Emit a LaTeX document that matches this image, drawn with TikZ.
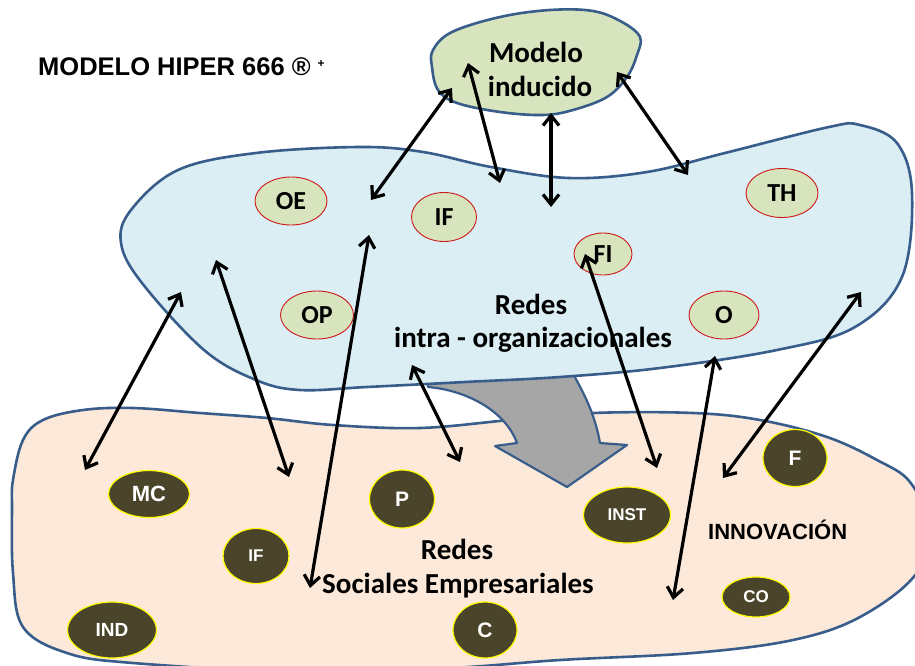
\documentclass[tikz,border=0pt]{standalone}
\usepackage{fontspec}
\setmainfont{Liberation Sans}
\newfontfamily\calibri{Carlito}
\usetikzlibrary{arrows.meta,shapes.geometric}

\definecolor{outline}{RGB}{56,93,138}
\definecolor{greenfill}{RGB}{215,228,189}
\definecolor{bluefill}{RGB}{219,238,244}
\definecolor{pinkfill}{RGB}{253,233,217}
\definecolor{grayfill}{RGB}{166,166,166}
\definecolor{darkfill}{RGB}{74,69,42}
\definecolor{redline}{RGB}{205,25,25}
\definecolor{yline}{RGB}{255,255,0}

\tikzset{
  blob/.style={draw=outline, line width=2.6pt, line join=round},
  intranode/.style={ellipse, draw=redline, line width=0.9pt, fill=greenfill,
    inner sep=0pt, font=\calibri\bfseries\fontsize{26}{28}\selectfont},
  socialnode/.style={ellipse, draw=yline, line width=1.2pt, fill=darkfill,
    text=white, inner sep=0pt, font=\bfseries\fontsize{#1}{#1}\selectfont},
  biglabel/.style={anchor=base, inner sep=0pt, font=\calibri\bfseries\fontsize{29}{32}\selectfont},
  link/.style={line width=3.2pt,
    {Straight Barb[length=10pt,width=16pt]}-{Straight Barb[length=10pt,width=16pt]}},
}

\begin{document}
\begin{tikzpicture}[x=1pt,y=-1pt]
\clip (0,0) rectangle (915,666);
\fill[white] (0,0) rectangle (915,666);

% lower region: social business networks
\path[blob, fill=pinkfill] plot[smooth cycle, tension=0.6] coordinates {
  (13,480) (23,440) (43,420) (83,410) (133,408) (200,413) (267,418) (333,425)
  (420,428) (510,420) (593,413) (693,413) (760,420) (827,437) (877,460)
  (910,482) (928,525) (916,574) (860,617) (793,640) (693,653) (560,660)
  (450,668) (300,672) (133,663) (67,653) (23,627) (13,573) (12,507)};

% transfer arrow between the two network regions
\path[draw=outline, line width=2.2pt, line join=round, fill=grayfill]
  (428,372) -- (428,387) .. controls (465,390) and (505,410) .. (517,443)
  -- (495,446) -- (567,487) -- (627,445) -- (600,443)
  .. controls (595,415) and (585,395) .. (572,372) -- cycle;

% upper region: intra-organisational networks
\path[blob, fill=bluefill] plot[smooth cycle, tension=0.6] coordinates {
  (121,243) (131,210) (178,170) (256,153) (360,147) (423,152) (491,167)
  (569,178) (647,172) (725,153) (829,127) (860,125) (897,143) (912,193)
  (902,277) (855,327) (777,350) (660,368) (560,377) (465,382) (367,387)
  (300,390) (256,380) (204,350) (142,283)};

% induced model
\path[blob, fill=greenfill] plot[smooth cycle, tension=0.6] coordinates {
  (433,50) (452,32) (500,17) (550,10) (593,11) (622,22) (640,37) (637,55)
  (627,77) (607,97) (573,110) (543,115) (500,112) (457,103) (438,90) (432,67)};

% title
\node[anchor=base west, inner sep=0pt, font=\bfseries\fontsize{25.5}{30}\selectfont]
  (title) at (38,76) {MODELO HIPER 666 ® \raisebox{8pt}{\fontsize{12}{12}\selectfont +}};

% region labels
\node[biglabel] (mi1) at (536,63) {Modelo};
\node[biglabel] (mi2) at (540,97) {inducido};
\node[biglabel] (ri1) at (531,314) {Redes};
\node[biglabel] (ri2) at (533,347) {intra - organizacionales};
\node[biglabel] (rs1) at (457,559) {Redes};
\node[biglabel] (rs2) at (458,593) {Sociales Empresariales};
\node[anchor=base west, inner sep=0pt, font=\bfseries\fontsize{22}{26}\selectfont]
  (innov) at (708,539) {INNOVACIÓN};

% intra-organisational nodes
\node[intranode, minimum width=72pt, minimum height=48pt] (OE) at (291,201) {OE};
\node[intranode, minimum width=65pt, minimum height=49pt] (IFa) at (444,217) {IF};
\node[intranode, minimum width=73pt, minimum height=48pt] (OP) at (317,315) {OP};
\node[intranode, minimum width=72pt, minimum height=49pt] (TH) at (782,193) {TH};
\node[intranode, minimum width=58pt, minimum height=42pt] (FI) at (603,254) {FI};
\node[intranode, minimum width=70pt, minimum height=48pt] (O) at (724,315) {O};

% social business nodes
\node[socialnode=22, minimum width=81pt, minimum height=47pt] (MC) at (149,494) {MC};
\node[socialnode=17, minimum width=66pt, minimum height=55pt] (IFb) at (256,556) {IF};
\node[socialnode=19, minimum width=89pt, minimum height=56pt] (IND) at (112,630) {IND};
\node[socialnode=21, minimum width=65pt, minimum height=58pt] (P) at (402,499) {P};
\node[socialnode=17, minimum width=87pt, minimum height=56pt] (INST) at (627,515) {INST};
\node[socialnode=21, minimum width=64pt, minimum height=56pt] (C) at (485,630) {C};
\node[socialnode=21, minimum width=64pt, minimum height=57pt] (F) at (795,458) {F};
\node[socialnode=17, minimum width=68pt, minimum height=40pt] (CO) at (756,597) {CO};

% connector end points
\coordinate (m1) at (452,88);   \coordinate (i1) at (371,200);
\coordinate (m2) at (468,63);   \coordinate (i2) at (500,183);
\coordinate (m3) at (551,113);  \coordinate (i3) at (551,207);
\coordinate (m4) at (617,72);   \coordinate (i4) at (688,175);
\coordinate (i5) at (181,292);  \coordinate (s5) at (85,470);
\coordinate (i6) at (216,260);  \coordinate (s6) at (289,477);
\coordinate (i7) at (369,235);  \coordinate (s7) at (310,588);
\coordinate (i8) at (412,365);  \coordinate (s8) at (460,462);
\coordinate (i9) at (585,254);  \coordinate (s9) at (657,468);
\coordinate (i10) at (715,356); \coordinate (s10) at (673,600);
\coordinate (i11) at (861,292); \coordinate (s11) at (723,478);

% two-way links
\foreach \a/\b in {m1/i1, m2/i2, m3/i3, m4/i4, i5/s5, i6/s6, i7/s7,
                   i8/s8, i9/s9, i10/s10, i11/s11}
  \draw[link] (\a) -- (\b);
\end{tikzpicture}
\end{document}
